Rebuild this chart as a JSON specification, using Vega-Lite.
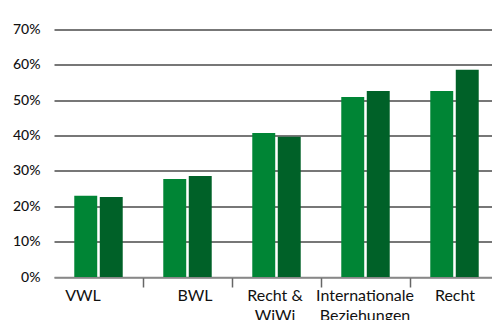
{
  "$schema": "https://vega.github.io/schema/vega-lite/v6.json",
  "autosize": {"type": "none"},
  "padding": {"left": 54, "top": 29.5, "right": 0, "bottom": 43},
  "width": 438,
  "height": 247.5,
  "background": "white",
  "data": {
    "values": [
      {"fach": "VWL", "reihe": "a", "anteil": 23},
      {"fach": "VWL", "reihe": "b", "anteil": 22.6},
      {"fach": "BWL", "reihe": "a", "anteil": 27.7},
      {"fach": "BWL", "reihe": "b", "anteil": 28.6},
      {"fach": "Recht & WiWi", "reihe": "a", "anteil": 40.7},
      {"fach": "Recht & WiWi", "reihe": "b", "anteil": 39.7},
      {"fach": "Internationale Beziehungen", "reihe": "a", "anteil": 50.9},
      {"fach": "Internationale Beziehungen", "reihe": "b", "anteil": 52.6},
      {"fach": "Recht", "reihe": "a", "anteil": 52.6},
      {"fach": "Recht", "reihe": "b", "anteil": 58.6}
    ]
  },
  "mark": {"type": "bar"},
  "encoding": {
    "x": {
      "field": "fach",
      "type": "nominal",
      "sort": null,
      "scale": {"range": [0, 445], "paddingInner": 0, "paddingOuter": 0},
      "axis": {
        "title": null,
        "labelAngle": 0,
        "labelFont": "Lato",
        "labelFontSize": 16,
        "labelColor": "#111111",
        "labelPadding": 0,
        "labelLineHeight": 20,
        "labelBaseline": "top",
        "labelExpr": "datum.value == 'Recht & WiWi' ? ['Recht &', 'WiWi'] : datum.value == 'Internationale Beziehungen' ? ['Internationale', 'Beziehungen'] : datum.value",
        "tickOffset": 44.5,
        "labelOffset": {
          "condition": [
            {"test": "datum.value === 'VWL'", "value": -60.5},
            {"test": "datum.value === 'BWL'", "value": -37.5},
            {"test": "datum.value === 'Recht & WiWi'", "value": -46.5},
            {"test": "datum.value === 'Internationale Beziehungen'", "value": -45.5}
          ],
          "value": -44.5
        },
        "tickSize": 10,
        "tickWidth": 1.5,
        "tickColor": "#666666",
        "domainColor": "#888888",
        "domainWidth": 1.5,
        "grid": false
      }
    },
    "xOffset": {
      "field": "reihe",
      "type": "nominal",
      "scale": {"paddingInner": 0.1, "paddingOuter": 0.795}
    },
    "y": {
      "field": "anteil",
      "type": "quantitative",
      "scale": {"domain": [0, 70], "nice": false},
      "axis": {
        "title": null,
        "values": [0, 10, 20, 30, 40, 50, 60, 70],
        "labelExpr": "datum.value + '%'",
        "labelFont": "Lato",
        "labelFontSize": 14,
        "labelFontWeight": 500,
        "labelColor": "#111111",
        "labelPadding": 14,
        "domain": false,
        "ticks": false,
        "grid": true,
        "gridColor": {"condition": {"test": "datum.value === 0", "value": "#888888"}, "value": "#4a4a4a"},
        "gridWidth": 1.5
      }
    },
    "color": {
      "field": "reihe",
      "type": "nominal",
      "scale": {"range": ["#008535", "#006128"]},
      "legend": null
    }
  },
  "config": {"view": {"stroke": null}}
}
